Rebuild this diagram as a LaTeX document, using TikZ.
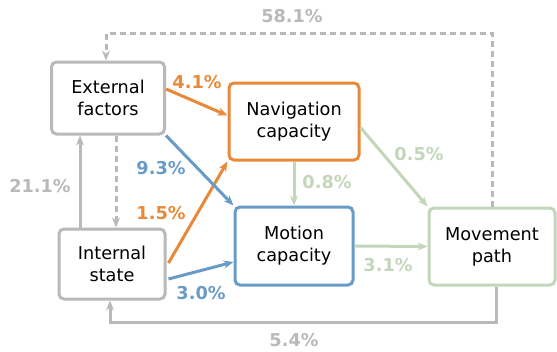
\documentclass[tikz,border=0pt]{standalone}
\usepackage{fontspec}
\setmainfont{DejaVu Sans}
\usetikzlibrary{arrows.meta}
\definecolor{cgray}{RGB}{185,185,188}
\definecolor{corange}{RGB}{232,137,58}
\definecolor{cblue}{RGB}{105,155,200}
\definecolor{cgreen}{RGB}{195,214,185}
\tikzset{
    box/.style = {draw, rounded corners=5pt, line width=3pt, fill=white,
        align=center, inner sep=0pt, font=\fontsize{17.7}{22}\selectfont},
    lbl/.style = {font=\fontsize{17.7}{22}\selectfont\bfseries},
    arr/.style = {line width=3pt, -{Stealth[length=10pt,width=8pt]}},
    dsh/.style = {dash pattern=on 6pt off 4pt}
}
\begin{document}
\begin{tikzpicture}[x=1pt, y=-1pt]
        \useasboundingbox (0, 0) rectangle (557, 351);
        \begin{scope}[every node/.style = {box}]
            \node[draw=cgray, minimum width=113pt, minimum height=72pt] (ext) at (108, 98) {External\\factors};
            \node[draw=cgray, minimum width=106pt, minimum height=70pt] (int) at (112, 264) {Internal\\state};
            \node[draw=corange, minimum width=130pt, minimum height=77pt] (nav) at (294, 121.5) {Navigation\\capacity};
            \node[draw=cblue, minimum width=118pt, minimum height=78pt] (mot) at (294, 246) {Motion\\capacity};
            \node[draw=cgreen, minimum width=126pt, minimum height=77pt] (mov) at (492, 246.5) {Movement\\path};
        \end{scope}
        \coordinate (top) at (0, 33);
        \coordinate (bot) at (0, 322);
        \draw[arr, cgray, dsh] (mov.north) -- (mov.north |- top) -- ([xshift=-2pt]ext.north |- top) -- ([xshift=-2pt]ext.north);
        \draw[arr, cgray] ([xshift=4pt]mov.south) -- ([xshift=4pt]mov.south |- bot) -- ([xshift=-2pt]int.south |- bot) -- ([xshift=-2pt]int.south);
        \draw[arr, cgray] ([xshift=-32pt]int.north) -- ([xshift=-28pt]ext.south);
        \draw[arr, cgray, dsh] ([xshift=8pt]ext.south) -- ([xshift=4pt]int.north);
        \draw[arr, corange] ([yshift=9pt]ext.east) -- ([yshift=6pt]nav.west);
        \draw[arr, corange] ([xshift=2pt, yshift=1pt]int.east) -- (nav.south west);
        \draw[arr, cblue] (ext.south east) -- (mot.north west);
        \draw[arr, cblue] ([xshift=2pt, yshift=-15pt]int.east) -- ([yshift=-16pt]mot.west);
        \draw[arr, cgreen] (nav.south) -- (mot.north);
        \draw[arr, cgreen] ([yshift=-6pt]nav.east) -- (mov.north west);
        \draw[arr, cgreen] (mot.east) -- (mov.west);
        \begin{scope}[every node/.style = {lbl}]
            \node[cgray] (l581) at (292, 16) {58.1\%};
            \node[corange] (l41) at (197, 82) {4.1\%};
            \node[cblue] (l93) at (161, 168) {9.3\%};
            \node[cgray] (l211) at (40, 186) {21.1\%};
            \node[corange] (l15) at (161, 213) {1.5\%};
            \node[cblue] (l30) at (201, 293) {3.0\%};
            \node[cgreen] (l08) at (327, 182) {0.8\%};
            \node[cgreen] (l05) at (419, 154) {0.5\%};
            \node[cgreen] (l31) at (388, 265) {3.1\%};
            \node[cgray] (l54) at (294, 340) {5.4\%};
        \end{scope}
    \end{tikzpicture}
\end{document}
